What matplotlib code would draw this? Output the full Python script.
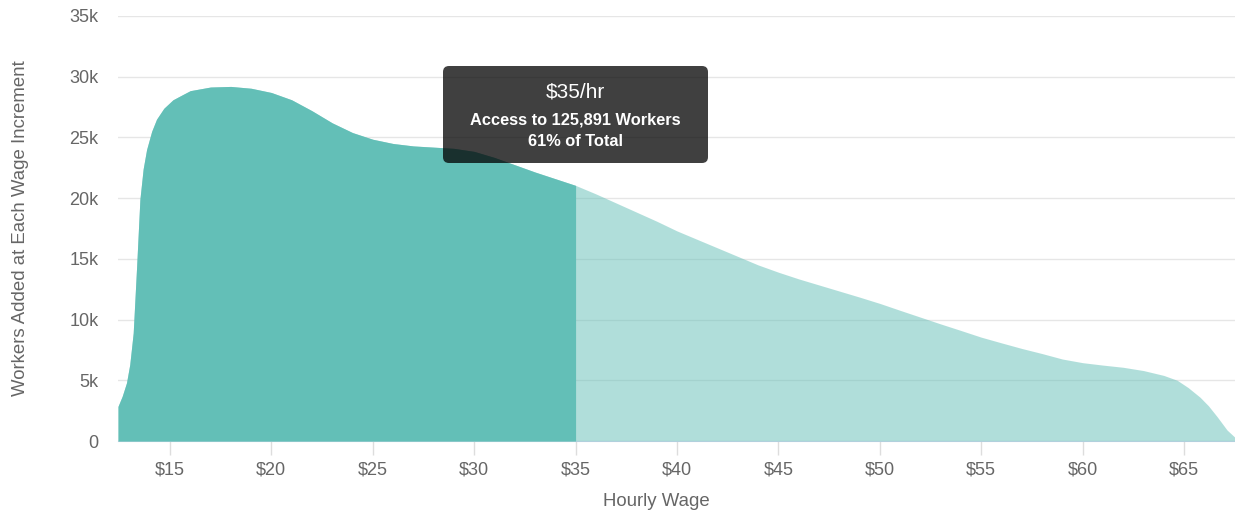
import matplotlib
matplotlib.use("Agg")
import matplotlib.pyplot as plt
from matplotlib.patches import FancyBboxPatch
from matplotlib.transforms import IdentityTransform
import numpy as np

plt.rcParams['font.family'] = ['Liberation Sans', 'DejaVu Sans']

# Data (wage in $/hr, workers in thousands)
wage = [12.44, 12.65, 12.86, 13.02, 13.19, 13.36, 13.52, 13.68, 13.85, 14.1, 14.34, 14.7,
        15.15, 15.6, 16, 17, 18, 19, 20, 21, 22, 23, 24, 25, 26, 27, 28, 29, 30,
        31, 32, 33, 34, 35, 36, 37, 38, 39, 40, 41, 42, 43, 44, 45, 46, 47, 48, 49,
        50, 51, 52, 53, 54, 55, 56, 57, 58, 59, 60, 61, 62, 63, 64, 64.66, 65.2,
        65.79, 66.2, 66.63, 67.12, 67.51]
workers_k = [2.85, 3.7, 4.8, 6.3, 8.9, 14.4, 19.9, 22.4, 24.0, 25.5, 26.5, 27.4,
             28.1, 28.5, 28.85, 29.15, 29.2, 29.05, 28.7, 28.1, 27.2, 26.2, 25.4, 24.85,
             24.5, 24.3, 24.2, 24.1, 23.85, 23.35, 22.75, 22.15, 21.6, 21.05, 20.35,
             19.6, 18.85, 18.1, 17.3, 16.6, 15.9, 15.2, 14.5, 13.9, 13.35, 12.85, 12.35,
             11.85, 11.33, 10.76, 10.2, 9.64, 9.1, 8.55, 8.08, 7.62, 7.2, 6.75, 6.45,
             6.25, 6.07, 5.8, 5.4, 5.0, 4.4, 3.6, 2.9, 2.0, 0.9, 0.3]
selected_wage = 35
x_ticks = [15, 20, 25, 30, 35, 40, 45, 50, 55, 60, 65]
x_ticklabels = ["$15", "$20", "$25", "$30", "$35", "$40", "$45", "$50", "$55", "$60", "$65"]
y_ticks = [0, 5000, 10000, 15000, 20000, 25000, 30000, 35000]
y_ticklabels = ["0", "5k", "10k", "15k", "20k", "25k", "30k", "35k"]
tooltip_title = "$35/hr"
tooltip_line1 = "Access to 125,891 Workers"
tooltip_line2 = "61% of Total"

x = np.array(wage)
y = np.array(workers_k) * 1000

W, H = 1235, 516
fig = plt.figure(figsize=(W / 100, H / 100), dpi=100)
ax = fig.add_axes([118 / W, (H - 441) / H, (1235 - 118) / W, (441 - 16) / H])

teal = "#63BFB7"
# full curve, semi transparent (grid shows through)
ax.fill_between(x, 0, y, color=teal, alpha=0.5, linewidth=0, zorder=2)
# selected portion, opaque
mask = x <= selected_wage
ax.fill_between(x[mask], 0, y[mask], color=teal, alpha=1.0, linewidth=0, zorder=3)

ax.set_xlim(12.44, 67.51)
ax.set_ylim(0, 35000)
ax.set_yticks(y_ticks)
ax.set_yticklabels(y_ticklabels)
ax.set_xticks(x_ticks)
ax.set_xticklabels(x_ticklabels)

ax.grid(axis='y', color='#e6e6e6', linewidth=1, zorder=1)
ax.set_axisbelow(True)
for s in ['top', 'right', 'left']:
    ax.spines[s].set_visible(False)
ax.spines['bottom'].set_color('#ccd6eb')
ax.spines['bottom'].set_zorder(1)
ax.tick_params(axis='y', length=0, pad=14, labelsize=13, labelcolor='#666666')
ax.tick_params(axis='x', length=10, width=1, color='#dddddd', pad=5,
               labelsize=13, labelcolor='#666666')

ax.set_ylabel("Workers Added at Each Wage Increment", fontsize=13.4, color='#666666')
ax.yaxis.set_label_coords(-0.0795, 0.5)
fig.text(656 / W, (H - 502) / H, "Hourly Wage", ha='center', va='center',
         fontsize=13.4, color='#666666')

# tooltip
box = FancyBboxPatch((443, H - 163), 265, 97, boxstyle="round,pad=0,rounding_size=6",
                     transform=IdentityTransform(), facecolor=(0, 0, 0, 0.75),
                     edgecolor='none', zorder=10)
fig.patches.append(box)
cx = 575.5
fig.text(cx / W, (H - 92) / H, tooltip_title, ha='center', va='center',
         fontsize=15, color='white', zorder=11)
fig.text(cx / W, (H - 120) / H, tooltip_line1, ha='center', va='center',
         fontsize=11.8, color='white', fontweight='bold', zorder=11)
fig.text(cx / W, (H - 141) / H, tooltip_line2, ha='center', va='center',
         fontsize=11.8, color='white', fontweight='bold', zorder=11)

fig.savefig("out.png", dpi=100)
